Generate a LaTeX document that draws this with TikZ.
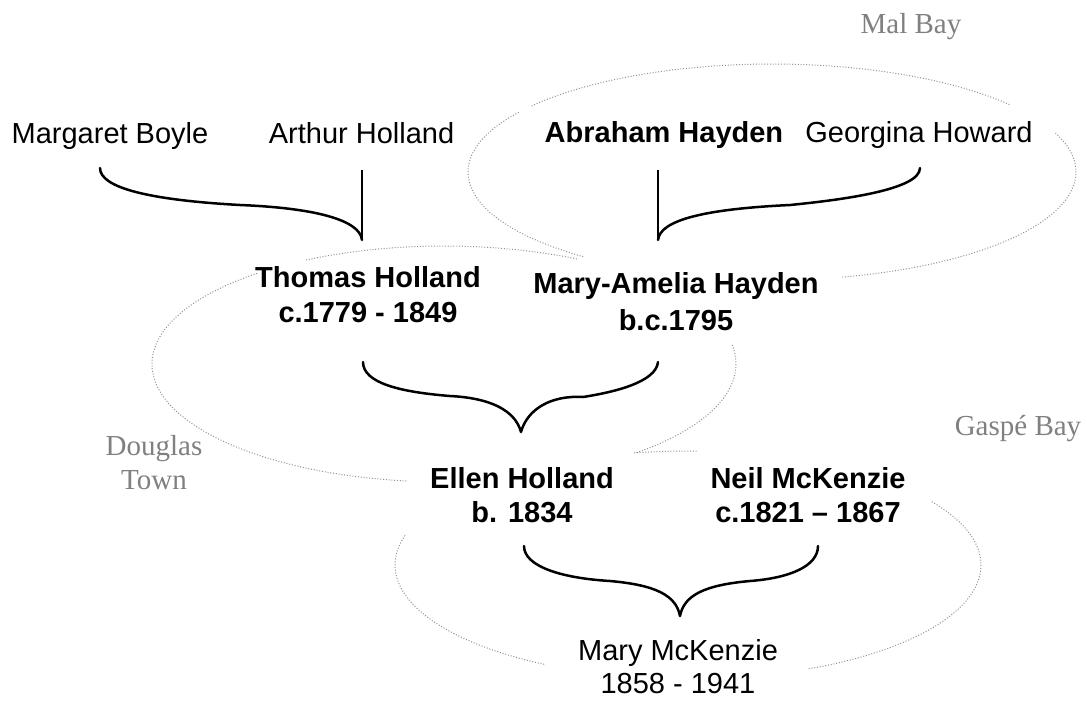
\documentclass[tikz,border=0pt]{standalone}
\usepackage{fontspec}
\setmainfont{Liberation Serif}
\setsansfont{Liberation Sans}
\usetikzlibrary{calc}
\definecolor{placegray}{RGB}{128,128,128}
\definecolor{dotgray}{RGB}{145,145,145}
\newcommand\twol[3]{\vtop{\baselineskip=#1pt\halign{\hfil##\hfil\cr#2\cr#3\cr}}}
\begin{document}
\begin{tikzpicture}[x=1pt,y=-1pt,
  person/.style={font=\sffamily\fontsize{29}{35}\selectfont, inner sep=0pt, anchor=base},
  personb/.style={font=\sffamily\bfseries\fontsize{29}{35}\selectfont, inner sep=0pt, anchor=base},
  place/.style={font=\rmfamily\fontsize{29}{34}\selectfont, text=placegray, inner sep=0pt, anchor=base},
  dotring/.style={draw=dotgray, line width=1pt, dash pattern=on 1pt off 1.8pt},
  brace/.style={line width=2.5pt, line cap=round, line join=round},
  stem/.style={line width=1.6pt}]
\useasboundingbox (0,0) rectangle (1087,702);
% people
\node[person]  (mb)  at (110,143) {Margaret Boyle};
\node[person]  (ah)  at (361.5,143) {Arthur Holland};
\node[personb] (abh) at (664,142) {Abraham Hayden};
\node[person]  (gh)  at (919,142) {Georgina Howard};
\node[personb] (th)  at (368,287) {\twol{35}{Thomas Holland}{c.1779 - 1849}};
\node[personb] (mah) at (676,293) {\twol{37}{Mary-Amelia Hayden}{b.c.1795}};
\node[personb] (eh)  at (522,488) {\twol{34}{Ellen Holland}{b. 1834}};
\node[personb] (nm)  at (808,488) {\twol{34}{Neil McKenzie}{c.1821 – 1867}};
\node[person]  (mm)  at (678,660) {\twol{33}{Mary McKenzie}{1858 - 1941}};
% places
\node[place] (mal) at (911,33) {Mal Bay};
\node[place] (dt)  at (154,455) {\twol{34}{Douglas}{Town}};
\node[place] (gb)  at (1018,435) {Gaspé Bay};
% brace coordinates
\coordinate (mbEnd) at (100,168);
\coordinate (ahEnd) at (362,170);
\coordinate (thTip) at (362,240);
\coordinate (ghEnd) at (920,168);
\coordinate (abhEnd) at (658,170);
\coordinate (mahTip) at (658,240);
\coordinate (thEnd) at (363,362);
\coordinate (mahEnd) at (658,362);
\coordinate (ehTip) at (521,432);
\coordinate (ehEnd) at (524,546);
\coordinate (nmEnd) at (818,546);
\coordinate (mmTip) at (680,616);
% connectors
\draw[stem] (ahEnd) -- (thTip);
\draw[brace] (mbEnd) .. controls +(0,20) and +(-90,-5) .. (240,205)
  .. controls +(75,3) and +(-2,-20) .. (thTip);
\draw[stem] (abhEnd) -- (mahTip);
\draw[brace] (ghEnd) .. controls +(0,22) and +(50,-5) .. (790,205)
  .. controls +(-85,4) and +(2,-20) .. (mahTip);
\draw[brace] (thEnd) .. controls +(0,21) and +(-50,-4) .. (450,396)
  .. controls +(40,2) and +(-6,-22) .. (ehTip)
  .. controls +(6,-22) and +(-33,-2) .. (583,397)
  .. controls +(32,-5) and +(-2,20) .. (mahEnd);
\draw[brace] (ehEnd) .. controls +(0,20) and +(-50,-3) .. (610,581)
  .. controls +(45,4) and +(-4,-21) .. (mmTip)
  .. controls +(4,-21) and +(-45,4) .. (750,581)
  .. controls +(40,-3) and +(0,20) .. (nmEnd);
% dotted place rings (Mal Bay)
\draw[dotring] ($(772,172)+(-142.3:304 and 108)$) arc[start angle=-142.3, end angle=-38.4, x radius=304, y radius=108];
\draw[dotring] ($(772,172)+(-21.2:304 and 108)$) arc[start angle=-21.2, end angle=76.6, x radius=304, y radius=108];
\draw[dotring] ($(772,172)+(128.4:304 and 108)$) arc[start angle=128.4, end angle=213.6, x radius=304, y radius=108];
% Douglas Town
\draw[dotring] ($(444,364)+(-118.2:292 and 118)$) arc[start angle=-118.2, end angle=-62.6, x radius=292, y radius=118];
\draw[dotring] ($(444,364)+(97.4:292 and 118)$) arc[start angle=97.4, end angle=230.3, x radius=292, y radius=118];
\draw[dotring] ($(444,364)+(-9.3:292 and 118)$) arc[start angle=-9.3, end angle=48.8, x radius=292, y radius=118];
% Gaspe Bay
\draw[dotring] ($(688,565)+(-100.6:293 and 114)$) arc[start angle=-100.6, end angle=-88, x radius=293, y radius=114];
\draw[dotring] ($(688,565)+(119.4:293 and 114)$) arc[start angle=119.4, end angle=195.2, x radius=293, y radius=114];
\draw[dotring] ($(688,565)+(-33.7:293 and 114)$) arc[start angle=-33.7, end angle=66, x radius=293, y radius=114];
\end{tikzpicture}
\end{document}
